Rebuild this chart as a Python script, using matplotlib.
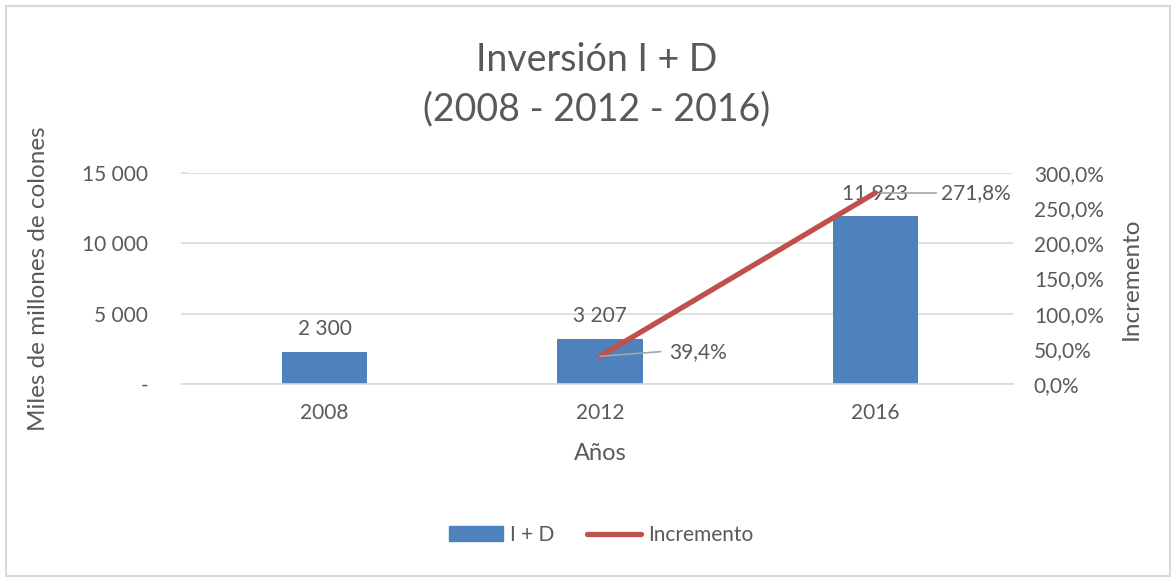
import matplotlib
matplotlib.use("Agg")
import numpy as np
from matplotlib import pyplot as plt
from matplotlib.patches import Rectangle
from matplotlib.lines import Line2D

years = ["2008", "2012", "2016"]
inversion = [2300, 3207, 11923]
incremento = [np.nan, 39.4, 271.8]
bar_labels = ["2 300", "3 207", "11 923"]
line_labels = ["", "39,4%", "271,8%"]
left_ticks = [0, 5000, 10000, 15000]
left_ticklabels = ["-", "5 000", "10 000", "15 000"]
right_ticks = [0, 50, 100, 150, 200, 250, 300]
right_ticklabels = ["0,0%", "50,0%", "100,0%", "150,0%", "200,0%", "250,0%", "300,0%"]

plt.rcParams['font.family'] = ['Lato', 'DejaVu Sans']
txt = "#595959"
blue = "#4F81BD"
red = "#C0504D"
fs = 15

fig = plt.figure(figsize=(11.76, 5.8), dpi=100)
fig.patches.append(Rectangle((6/1176, 4/580), 1164/1176, 570/580, transform=fig.transFigure,
                             fill=False, edgecolor="#D9D9D9", linewidth=1.5))

ax = fig.add_axes([187/1176, (580-384)/580, (1013-187)/1176, (384-173)/580])
x = np.arange(len(years))
ax.bar(x, inversion, width=0.31, color=blue, zorder=2)
ax.set_xlim(-0.5, 2.5)
ax.set_ylim(0, 15000)
ax.set_yticks(left_ticks)
ax.set_yticklabels(left_ticklabels)
ax.set_xticks(x)
ax.set_xticklabels(years)
ax.grid(axis="y", color="#D9D9D9", linewidth=1.2, zorder=0)
for s in ["top", "right", "left"]:
    ax.spines[s].set_visible(False)
ax.spines["bottom"].set_color("#D9D9D9")
ax.spines["bottom"].set_linewidth(1.2)
ax.tick_params(labelsize=fs, labelcolor=txt)
ax.tick_params(axis="x", length=0, pad=14)
ax.tick_params(axis="y", length=4, width=1.2, color="#D9D9D9", pad=24)
ax.set_ylabel("Miles de millones de colones", fontsize=17.5, color=txt, labelpad=24)
ax.set_xlabel("Años", fontsize=17, color=txt, labelpad=14)
for i, v in enumerate(inversion):
    ax.text(i, v + 900, bar_labels[i], ha="center", va="bottom", fontsize=fs, color=txt, zorder=5)

ax2 = ax.twinx()
ax2.plot(x, incremento, color=red, linewidth=3.8, solid_capstyle="round", zorder=3)
ax2.set_ylim(0, 300)
ax2.set_yticks(right_ticks)
ax2.set_yticklabels(right_ticklabels)
for s in ["top", "right", "left", "bottom"]:
    ax2.spines[s].set_visible(False)
ax2.tick_params(length=0, labelsize=fs, labelcolor=txt, pad=15)
ax2.set_ylabel("Incremento", fontsize=17.5, color=txt, rotation=90, labelpad=12)

# leader lines + labels for the line series
ax2.plot([1, 1.22], [39.4, 46], color="#A6A6A6", linewidth=1.2, zorder=4)
ax2.text(1.25, 46, line_labels[1], ha="left", va="center", fontsize=fs, color=txt)
ax2.plot([2.02, 2.22], [271.8, 271.8], color="#A6A6A6", linewidth=1.2, zorder=4)
ax2.text(2.24, 271.8, line_labels[2], ha="left", va="center", fontsize=fs, color=txt)

fig.text(597/1176, 1 - 85/580, "Inversión I + D\n(2008 - 2012 - 2016)", ha="center", va="center",
         fontsize=27, color=txt, linespacing=1.45)

handles = [Rectangle((0, 0), 1, 1, color=blue), Line2D([0], [0], color=red, linewidth=3.8, solid_capstyle="round")]
fig.legend(handles, ["I + D", "Incremento"], loc="center", bbox_to_anchor=(601/1176, 1 - 535/580),
           ncol=2, frameon=False, fontsize=fs, labelcolor=txt, handlelength=2.6, handletextpad=0.3,
           columnspacing=1.6)

fig.savefig("out.png", dpi=100)
